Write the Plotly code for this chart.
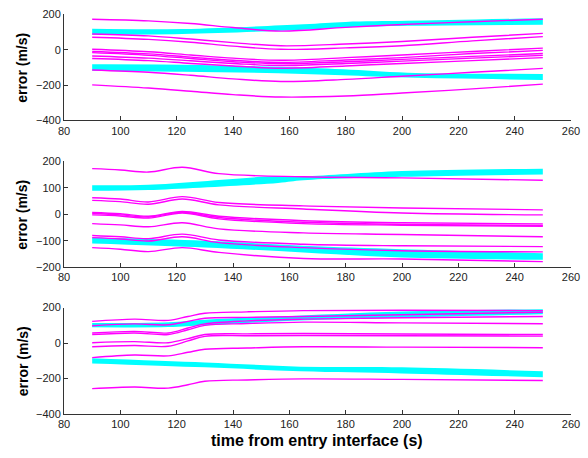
import plotly.graph_objects as go
from plotly.subplots import make_subplots

# ---------------- data ----------------
# Panel 1
p1_x = [90, 110, 125, 140, 157, 180, 200, 225, 250]
p1_lines = [
    [172, 163, 148, 125, 105, 126, 142, 158, 172],
    [89, 78, 60, 40, 22, 32, 46, 70, 92],
    [70, 58, 42, 20, 2, 10, 22, 50, 74],
    [2, -12, -30, -48, -60, -45, -30, -10, 9],
    [-10, -24, -42, -60, -72, -58, -45, -22, -4],
    [-17, -32, -50, -68, -80, -68, -55, -38, -22],
    [-36, -48, -63, -78, -90, -78, -65, -48, -32],
    [-50, -62, -78, -92, -105, -92, -78, -62, -45],
    [-115, -128, -145, -165, -180, -168, -150, -128, -106],
    [-199, -217, -235, -254, -268, -262, -245, -222, -195],
]
p1_bandU_x = [90, 122, 165, 180, 202, 250]
p1_bandU_top = [118, 117, 144, 157, 163, 178]
p1_bandU_bot = [85, 89, 113, 126, 135, 141]
p1_bandL_x = [90, 122, 156, 179, 202, 250]
p1_bandL_top = [-83, -85, -97, -111, -130, -137]
p1_bandL_bot = [-119, -125, -133, -145, -158, -171]

# Panel 2
p2_x = [90, 100, 110, 122, 135, 165, 200, 250]
p2_lines = [
    [173, 168, 160, 178, 154, 142, 138, 129],
    [63, 58, 47, 67, 45, 32, 24, 17],
    [53, 48, 38, 58, 36, 20, 5, -2],
    [7, 2, -7, 11, -7, -24, -32, -36],
    [3, -2, -10, 8, -12, -30, -38, -42],
    [-2, -6, -14, 5, -17, -35, -41, -45],
    [-35, -40, -47, -32, -55, -70, -76, -85],
    [-80, -85, -92, -75, -97, -113, -119, -122],
    [-88, -93, -101, -85, -107, -126, -138, -142],
    [-126, -132, -141, -126, -144, -167, -169, -179],
]
p2_bandU_x = [90, 110, 156, 165, 200, 250]
p2_bandU_top = [110, 112, 145, 144, 164, 173]
p2_bandU_bot = [89, 92, 119, 129, 142, 151]
p2_bandL_x = [90, 130, 165, 200, 250]
p2_bandL_top = [-88, -100, -119, -132, -147]
p2_bandL_bot = [-110, -125, -144, -163, -172]

# Panel 3
p3_x = [90, 105, 117, 124, 130, 145, 165, 200, 250]
p3_lines = [
    [122, 135, 128, 150, 168, 176, 183, 185, 183],
    [98, 108, 103, 122, 140, 145, 150, 160, 174],
    [57, 66, 57, 85, 108, 125, 135, 143, 150],
    [48, 57, 48, 75, 100, 110, 118, 114, 109],
    [2, 8, 2, 25, 48, 52, 54, 51, 48],
    [-21, -14, -18, 12, 38, 41, 43, 41, 39],
    [-82, -67, -72, -52, -35, -28, -21, -23, -26],
    [-257, -248, -254, -235, -215, -208, -202, -205, -211],
]
p3_bandU_x = [90, 117, 130, 156, 200, 250]
p3_bandU_top = [113, 118, 132, 150, 178, 191]
p3_bandU_bot = [89, 90, 100, 122, 144, 163]
p3_bandL_x = [90, 130, 164, 200, 250]
p3_bandL_top = [-85, -109, -133, -137, -159]
p3_bandL_bot = [-115, -137, -159, -171, -193]

x_ticks = [80, 100, 120, 140, 160, 180, 200, 220, 240, 260]
y_ticks_13 = [-400, -200, 0, 200]
y_ticks_2 = [-200, -100, 0, 100, 200]

CYAN = "#00ffff"
MAG = "#ff00ff"

fig = make_subplots(rows=3, cols=1)

def add_band(row, xs, top, bot):
    fig.add_trace(go.Scatter(x=xs, y=bot, mode="lines", line=dict(width=0, color=CYAN, shape="spline"),
                             showlegend=False, hoverinfo="skip"), row=row, col=1)
    fig.add_trace(go.Scatter(x=xs, y=top, mode="lines", line=dict(width=0, color=CYAN, shape="spline"),
                             fill="tonexty", fillcolor=CYAN, showlegend=False, hoverinfo="skip"), row=row, col=1)

def add_lines(row, xs, lines):
    for ys in lines:
        fig.add_trace(go.Scatter(x=xs, y=ys, mode="lines",
                                 line=dict(color=MAG, width=1.4, shape="spline", smoothing=1.0),
                                 showlegend=False), row=row, col=1)

add_band(1, p1_bandU_x, p1_bandU_top, p1_bandU_bot)
add_band(1, p1_bandL_x, p1_bandL_top, p1_bandL_bot)
add_lines(1, p1_x, p1_lines)
add_band(2, p2_bandU_x, p2_bandU_top, p2_bandU_bot)
add_band(2, p2_bandL_x, p2_bandL_top, p2_bandL_bot)
add_lines(2, p2_x, p2_lines)
add_band(3, p3_bandU_x, p3_bandU_top, p3_bandU_bot)
add_band(3, p3_bandL_x, p3_bandL_top, p3_bandL_bot)
add_lines(3, p3_x, p3_lines)

# layout: plot area y from 8 to 414 px (height 406)
H0, H1 = 8, 414
def dom(top_px, bot_px):
    return [(H1 - bot_px) / (H1 - H0), (H1 - top_px) / (H1 - H0)]

domains = [dom(8.3, 116), dom(157.7, 265), dom(306, 414)]
tickfont = dict(family="Liberation Sans, Arial, sans-serif", size=11, color="#222222")
for i in range(3):
    xa = "xaxis" if i == 0 else f"xaxis{i+1}"
    ya = "yaxis" if i == 0 else f"yaxis{i+1}"
    fig.layout[xa].update(range=[80, 260], tickvals=x_ticks, ticks="inside", ticklen=4,
                          showline=True, linecolor="#333333", linewidth=1, showgrid=False,
                          zeroline=False, tickfont=tickfont, tickcolor="#333333")
    yt = y_ticks_2 if i == 1 else y_ticks_13
    yr = [-200, 200] if i == 1 else [-400, 200]
    fig.layout[ya].update(domain=domains[i], range=yr, tickvals=yt, ticks="inside", ticklen=4,
                          showline=True, linecolor="#333333", linewidth=1, showgrid=False,
                          zeroline=False, tickfont=tickfont, tickcolor="#333333")

annos = []
for i in range(3):
    d = domains[i]
    annos.append(dict(text="<b>error (m/s)</b>", textangle=-90, x=(22 - 64) / 513, y=(d[0] + d[1]) / 2,
                      xref="paper", yref="paper", xanchor="center", yanchor="middle", showarrow=False,
                      font=dict(family="Liberation Sans, Arial, sans-serif", size=14, color="black")))
annos.append(dict(text="<b>time from entry interface (s)</b>", x=(320 - 64) / 513, y=(H1 - 441) / (H1 - H0),
                  xref="paper", yref="paper", showarrow=False, xanchor="center", yanchor="middle",
                  font=dict(family="Liberation Sans, Arial, sans-serif", size=16, color="black")))

fig.update_layout(width=588, height=458, margin=dict(l=64, r=11, t=H0, b=458 - H1),
                  paper_bgcolor="white", plot_bgcolor="white", showlegend=False,
                  annotations=annos)

fig.write_html("out.html", config={"displayModeBar": False},
               post_script="document.body.style.margin='0';document.body.style.overflow='hidden';")
